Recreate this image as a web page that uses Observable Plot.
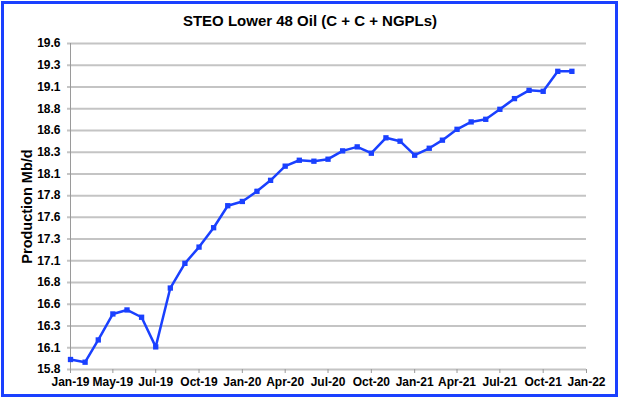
<!DOCTYPE html>
<html>
<head>
<meta charset="utf-8">
<script src="https://cdn.jsdelivr.net/npm/d3@7"></script>
<script src="https://cdn.jsdelivr.net/npm/@observablehq/plot@0.6"></script>
<style>
  html, body { margin: 0; padding: 0; background: #fff; }
  #wrap { position: relative; width: 620px; height: 399px; overflow: hidden; font-family: "Liberation Sans", Arial, sans-serif; }
  #border { position: absolute; left: 1px; top: 1px; width: 617px; height: 396px; box-sizing: border-box; border: 3px solid #1a40ff; pointer-events: none; }
  #title { position: absolute; left: 0; top: 13px; width: 620px; text-align: center; font-size: 15px; line-height: 15px; font-weight: bold; color: #000; }
  #chart { position: absolute; left: 0; top: 0; }
</style>
</head>
<body>
<div id="wrap">
  <div id="chart"></div>
  <div id="title">STEO Lower 48 Oil (C + C + NGPLs)</div>
  <div id="border"></div>
</div>
<script>
// Monthly data, Jan-2019 .. Dec-2021
const months = [
  "2019-01","2019-02","2019-03","2019-04","2019-05","2019-06","2019-07","2019-08","2019-09","2019-10","2019-11","2019-12",
  "2020-01","2020-02","2020-03","2020-04","2020-05","2020-06","2020-07","2020-08","2020-09","2020-10","2020-11","2020-12",
  "2021-01","2021-02","2021-03","2021-04","2021-05","2021-06","2021-07","2021-08","2021-09","2021-10","2021-11","2021-12"
];
const production = [
  15.965, 15.934, 16.19, 16.489, 16.535, 16.451, 16.11, 16.787, 17.071, 17.258, 17.481, 17.734,
  17.783, 17.90, 18.026, 18.189, 18.257, 18.246, 18.269, 18.365, 18.411, 18.338, 18.515, 18.476,
  18.315, 18.395, 18.488, 18.613, 18.698, 18.728, 18.843, 18.966, 19.061, 19.05, 19.28, 19.28
];

// Axis ticks and labels as shown in the chart
const yTicks = [15.85, 16.1, 16.35, 16.6, 16.85, 17.1, 17.35, 17.6, 17.85, 18.1, 18.35, 18.6, 18.85, 19.1, 19.35, 19.6];
const yLabels = ["15.8","16.1","16.3","16.6","16.8","17.1","17.3","17.6","17.8","18.1","18.3","18.6","18.8","19.1","19.3","19.6"];
const xTickDates = ["2019-01","2019-04","2019-07","2019-10","2020-01","2020-04","2020-07","2020-10","2021-01","2021-04","2021-07","2021-10","2022-01"];
const xLabels = ["Jan-19","May-19","Jul-19","Oct-19","Jan-20","Apr-20","Jul-20","Oct-20","Jan-21","Apr-21","Jul-21","Oct-21","Jan-22"];

const parse = s => new Date(s + "-01T00:00:00Z");
const data = months.map((m, i) => ({date: parse(m), value: production[i]}));
const xTicks = xTickDates.map(parse);

const lineColor = "#1a40ff";
const font = "'Liberation Sans', Arial, sans-serif";

const chart = Plot.plot({
  width: 620,
  height: 399,
  marginLeft: 70,
  marginRight: 34,
  marginTop: 43,
  marginBottom: 30,
  style: {fontFamily: font, fontSize: "12px", fontWeight: "bold", background: "transparent", color: "#000"},
  x: {type: "utc", domain: [xTicks[0], xTicks[xTicks.length - 1]]},
  y: {domain: [yTicks[0], yTicks[yTicks.length - 1]]},
  marks: [
    Plot.ruleY(yTicks, {stroke: "#c4c4c4", strokeWidth: 2, insetLeft: -3}),
    Plot.ruleX([xTicks[0]], {stroke: "#9a9a9a", strokeWidth: 1}),
    Plot.axisY({
      ticks: yTicks,
      tickSize: 0,
      tickPadding: 10,
      label: null,
      tickFormat: d => yLabels[yTicks.indexOf(d)]
    }),
    Plot.axisX({
      ticks: xTicks,
      tickSize: 4,
      tickPadding: 4,
      stroke: "#9a9a9a",
      label: null,
      tickFormat: d => xLabels[xTicks.findIndex(t => +t === +d)]
    }),
    Plot.text(["Production Mb/d"], {
      frameAnchor: "left",
      dx: -43,
      rotate: -90,
      textAnchor: "middle",
      fontSize: 14.5,
      fontWeight: "bold"
    }),
    Plot.line(data, {x: "date", y: "value", stroke: lineColor, strokeWidth: 2.5}),
    Plot.dot(data, {x: "date", y: "value", symbol: "square", r: 3, fill: lineColor, stroke: "none"})
  ]
});
document.getElementById("chart").appendChild(chart);
</script>
</body>
</html>
